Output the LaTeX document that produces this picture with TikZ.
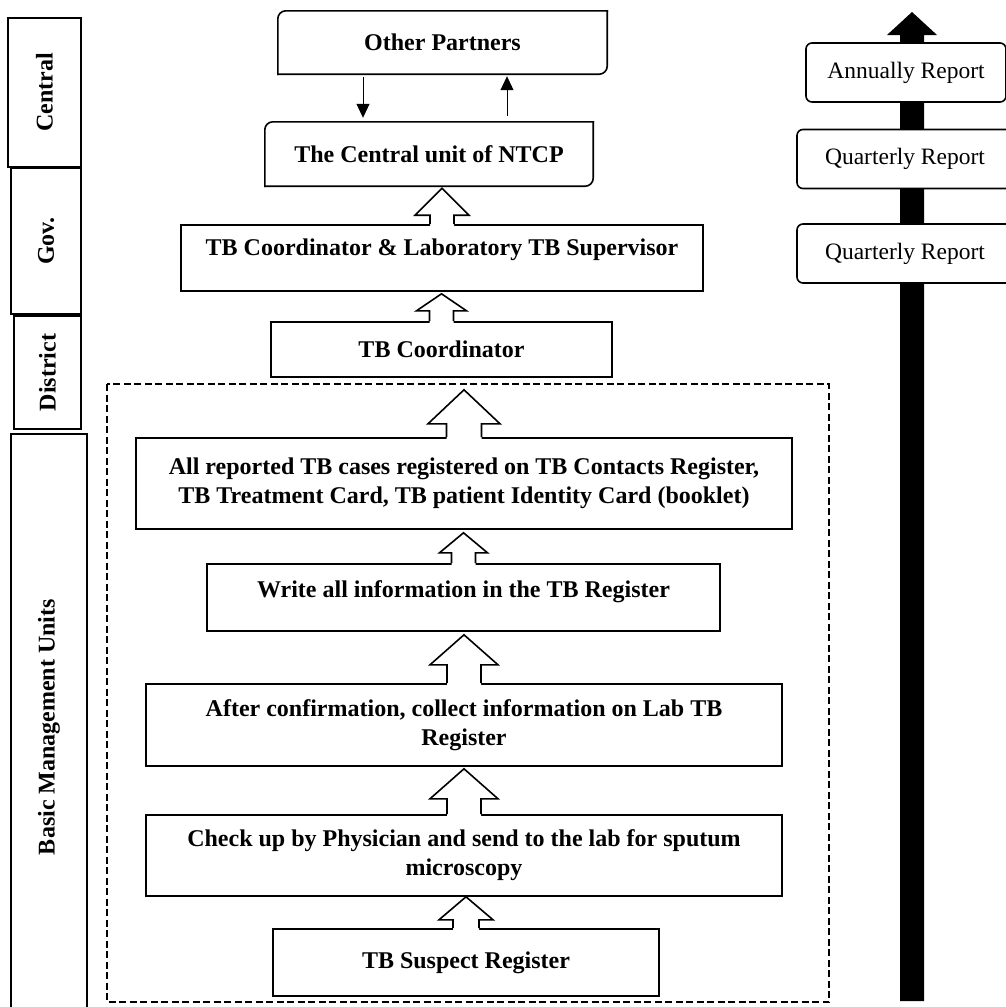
\documentclass[tikz,border=0pt]{standalone}
\usepackage{fontspec}
\setmainfont{Liberation Serif}
\usetikzlibrary{calc,arrows.meta}
\tikzset{
  lw/.style={line width=1.6pt},
  bt/.style={font=\bfseries\fontsize{24}{29}\selectfont, align=center, inner sep=0pt},
  box/.style={bt, draw, lw, fill=white},
  halfbox/.style={bt},
  sidebox/.style={bt, draw, lw, rotate=90},
  repbox/.style={draw, lw, fill=white, rounded corners=6pt, inner sep=0pt,
     font=\fontsize{23.5}{29}\selectfont, minimum height=59pt},
  thinarr/.style={line width=1pt, -{Triangle[width=13pt,length=14pt]}},
  blockline/.style={lw, line join=miter},
}
\newcommand\barrow[6]{%
  \fill[white] let \p1=(#1.north), \p2=(#2.south) in
    (\x1,\y2-#3) -- (\x1+#4,\y2-#3-#6) -- (\x1+#5,\y2-#3-#6) -- (\x1+#5,\y1-1.6pt)
    -- (\x1-#5,\y1-1.6pt) -- (\x1-#5,\y2-#3-#6) -- (\x1-#4,\y2-#3-#6) -- cycle;
  \draw[blockline] let \p1=(#1.north), \p2=(#2.south) in
    (\x1-#5,\y1) -- (\x1-#5,\y2-#3-#6) -- (\x1-#4,\y2-#3-#6) -- (\x1,\y2-#3)
    -- (\x1+#4,\y2-#3-#6) -- (\x1+#5,\y2-#3-#6) -- (\x1+#5,\y1);
}
\begin{document}
\begin{tikzpicture}[x=1pt,y=-1pt]
\useasboundingbox (0,0) rectangle (1006,1007);
\begin{scope}
\clip (0,0) rectangle (1006,1007);

% left level column
\node[sidebox, minimum width=149pt, minimum height=73pt] (central) at (44.5,92.5) {Central};
\node[sidebox, minimum width=146pt, minimum height=70pt] (gov) at (46,241) {Gov.};
\node[sidebox, minimum width=113pt, minimum height=67pt] (district) at (47.5,372.5) {District};
\node[sidebox, minimum width=586pt, minimum height=76pt] (bmu) at (49,727) {Basic Management Units};

% dashed region
\draw[lw, dash pattern=on 7pt off 3.5pt] (107,384) rectangle (829,1002);

% right reporting arrow
\fill[black] (900,1001) -- (924,1001) -- (924,35) -- (937,35) -- (912,12) -- (887,35) -- (900,35) -- cycle;
\node[repbox, minimum width=200pt] (annual) at (906,72.5) {Annually Report};
\node[repbox, minimum width=216pt] (q1) at (905,159) {Quarterly Report};
\node[repbox, minimum width=216pt] (q2) at (905,253.5) {Quarterly Report};

% top boxes with two rounded corners
\node[halfbox, minimum width=329pt, minimum height=63pt] (op) at (442.5,42.5) {Other Partners};
\draw[lw, rounded corners=8pt, line cap=rect] (op.south west) -- (op.north west) -- (op.north east);
\draw[lw, rounded corners=8pt, line cap=rect] (op.north east) -- (op.south east) -- (op.south west);
\node[halfbox, minimum width=328pt, minimum height=64pt] (cu) at (429,154) {The Central unit of NTCP};
\draw[lw, rounded corners=8pt, line cap=rect] (cu.south west) -- (cu.north west) -- (cu.north east);
\draw[lw, rounded corners=8pt, line cap=rect] (cu.north east) -- (cu.south east) -- (cu.south west);

\draw[thinarr] ([xshift=-79.5pt,yshift=-3pt]op.south) -- ([xshift=-66pt,yshift=4pt]cu.north);
\draw[thinarr] ([xshift=78pt,yshift=6pt]cu.north) -- ([xshift=64.5pt,yshift=-2pt]op.south);

% main chain
\node[box, minimum width=522pt, minimum height=66pt, text depth=21pt] (lab) at (442,258) {TB Coordinator \& Laboratory TB Supervisor};
\node[box, minimum width=341pt, minimum height=55pt] (tbc) at (441.5,349.5) {TB Coordinator};
\node[box, minimum width=656pt, minimum height=91pt] (all) at (464,483.5) {All reported TB cases registered on TB Contacts Register,\\TB Treatment Card, TB patient Identity Card (booklet)};
\node[box, minimum width=513pt, minimum height=67pt, text depth=17pt] (write) at (463.5,597.5) {Write all information in the TB Register};
\node[box, minimum width=636pt, minimum height=82pt] (conf) at (464,725) {After confirmation, collect information on Lab TB\\Register};
\node[box, minimum width=636pt, minimum height=81pt] (check) at (464,855.5) {Check up by Physician and send to the lab for sputum\\microscopy};
\node[box, minimum width=386pt, minimum height=67pt] (susp) at (466,962.5) {TB Suspect Register};

\barrow{lab}{cu}{2pt}{27pt}{12pt}{27pt}
\barrow{tbc}{lab}{2pt}{25pt}{12pt}{17pt}
\barrow{all}{tbc}{12pt}{36pt}{17.5pt}{34pt}
\barrow{write}{all}{3pt}{24pt}{12pt}{20pt}
\barrow{conf}{write}{3pt}{34pt}{17pt}{30pt}
\barrow{check}{conf}{2pt}{34pt}{17pt}{30pt}
\barrow{susp}{check}{0pt}{27pt}{13pt}{23pt}
\end{scope}
\end{tikzpicture}
\end{document}
